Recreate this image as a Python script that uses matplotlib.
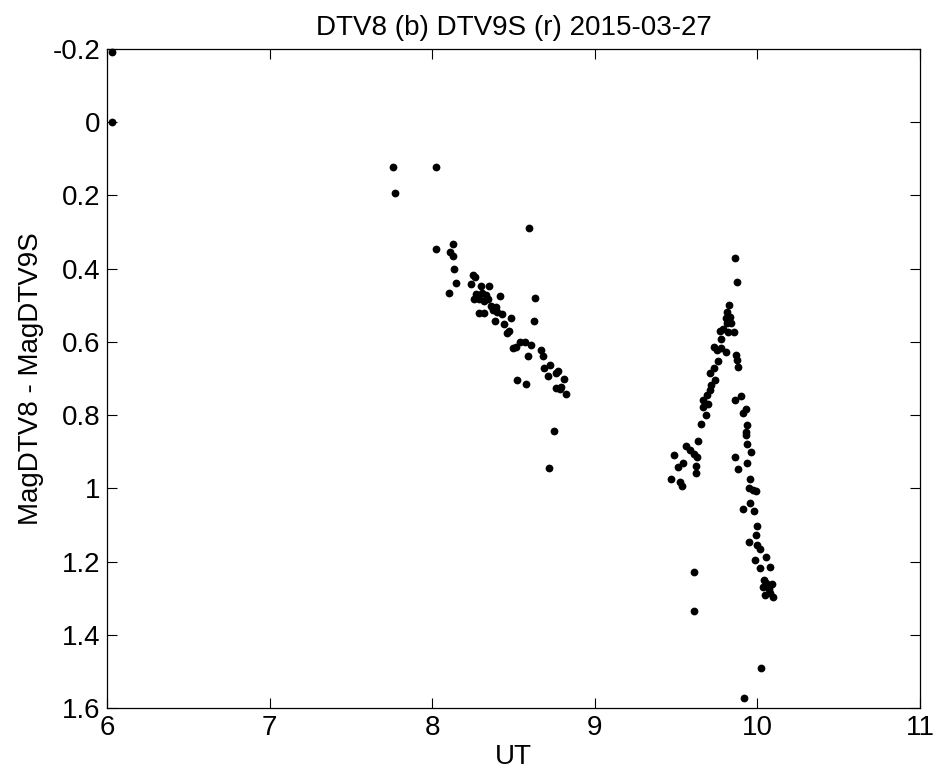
import matplotlib
matplotlib.use("Agg")
import matplotlib.pyplot as plt

# UT (hours) and magnitude difference DTV8 - DTV9S
ut = [6.03, 6.03,
      7.760, 8.022, 7.770, 8.596, 8.022, 8.127, 8.108, 8.127, 8.135, 8.145,
      8.106, 8.248, 8.260, 8.237, 8.297, 8.352, 8.417, 8.633, 8.624,
      8.272, 8.309, 8.333, 8.256, 8.286, 8.317, 8.346, 8.364, 8.395, 8.374,
      8.401, 8.426, 8.286, 8.319, 8.389, 8.444, 8.483, 8.459, 8.473, 8.540,
      8.569, 8.518, 8.494, 8.606, 8.586, 8.670, 8.682, 8.727, 8.690, 8.711,
      8.760, 8.776, 8.813, 8.764, 8.792, 8.784, 8.821, 8.522, 8.577, 8.747,
      8.717,
      9.466, 9.487, 9.512, 9.526, 9.536, 9.542, 9.563, 9.587, 9.610, 9.620,
      9.620, 9.630, 9.634, 9.608, 9.608, 9.655, 9.665, 9.665, 9.682, 9.692,
      9.696, 9.706, 9.706, 9.716, 9.733, 9.733, 9.741, 9.753, 9.759, 9.768,
      9.774, 9.778, 9.788, 9.805, 9.805, 9.813, 9.815, 9.819, 9.825, 9.829,
      9.835, 9.854, 9.864, 9.872,
      9.866, 9.874, 9.882, 9.862, 9.901, 9.911, 9.927, 9.938, 9.927, 9.932,
      9.938, 9.958, 9.864, 9.936, 9.882, 9.956, 9.948, 9.973, 9.989, 9.956,
      9.911, 9.979, 9.997, 9.993, 9.948, 9.999, 10.013, 10.050, 9.985, 10.013,
      10.079, 10.038, 10.054, 10.089, 10.034, 10.069, 10.044, 10.096, 10.079,
      10.024, 9.919]
dmag = [-0.19, 0.0,
        0.122, 0.122, 0.193, 0.289, 0.347, 0.334, 0.356, 0.365, 0.401, 0.439,
        0.468, 0.417, 0.422, 0.442, 0.447, 0.447, 0.476, 0.480, 0.542,
        0.470, 0.468, 0.473, 0.484, 0.482, 0.489, 0.484, 0.502, 0.506, 0.513,
        0.518, 0.525, 0.522, 0.522, 0.542, 0.551, 0.534, 0.575, 0.571, 0.600,
        0.600, 0.613, 0.618, 0.610, 0.639, 0.621, 0.639, 0.663, 0.672, 0.692,
        0.684, 0.681, 0.701, 0.725, 0.722, 0.730, 0.742, 0.705, 0.714, 0.843,
        0.945,
        0.975, 0.909, 0.941, 0.982, 0.994, 0.930, 0.884, 0.895, 0.906, 0.938,
        0.959, 0.913, 0.871, 1.227, 1.335, 0.823, 0.759, 0.777, 0.800, 0.745,
        0.771, 0.686, 0.732, 0.718, 0.613, 0.672, 0.704, 0.621, 0.652, 0.570,
        0.618, 0.591, 0.566, 0.536, 0.627, 0.550, 0.518, 0.572, 0.500, 0.531,
        0.548, 0.572, 0.372, 0.436,
        0.636, 0.650, 0.668, 0.759, 0.747, 0.793, 0.784, 0.827, 0.845, 0.854,
        0.880, 0.902, 0.913, 0.932, 0.948, 0.973, 1.000, 1.004, 1.006, 1.039,
        1.055, 1.062, 1.103, 1.127, 1.146, 1.155, 1.166, 1.188, 1.195, 1.218,
        1.214, 1.250, 1.257, 1.261, 1.268, 1.275, 1.291, 1.296, 1.286,
        1.489, 1.571]

xticks = [6, 7, 8, 9, 10, 11]
yticks = [-0.2, 0, 0.2, 0.4, 0.6, 0.8, 1, 1.2, 1.4, 1.6]
yticklabels = ["-0.2", "0", "0.2", "0.4", "0.6", "0.8", "1", "1.2", "1.4", "1.6"]

plt.rcParams['font.family'] = ['Liberation Sans', 'DejaVu Sans']

fig = plt.figure(figsize=(9.36, 7.78), dpi=100)
ax = fig.add_axes([0.1143, 0.0896, 0.8687, 0.8479])

ax.plot(ut, dmag, 'o', color='black', markersize=5.6, markeredgewidth=0, clip_on=False)

ax.set_xlim(6, 11)
ax.set_ylim(1.6, -0.2)
ax.set_xticks(xticks)
ax.set_yticks(yticks)
ax.set_yticklabels(yticklabels)
ax.tick_params(direction='in', length=7, width=0.8, top=True, right=True,
               labelsize=20, pad=5)
for s in ax.spines.values():
    s.set_linewidth(0.9)

ax.set_xlabel('UT', fontsize=20, labelpad=2)
ax.set_ylabel('MagDTV8 - MagDTV9S', fontsize=20, labelpad=6)
ax.set_title('DTV8 (b) DTV9S (r) 2015-03-27', fontsize=20, pad=10)

fig.savefig('out.png', dpi=100)
